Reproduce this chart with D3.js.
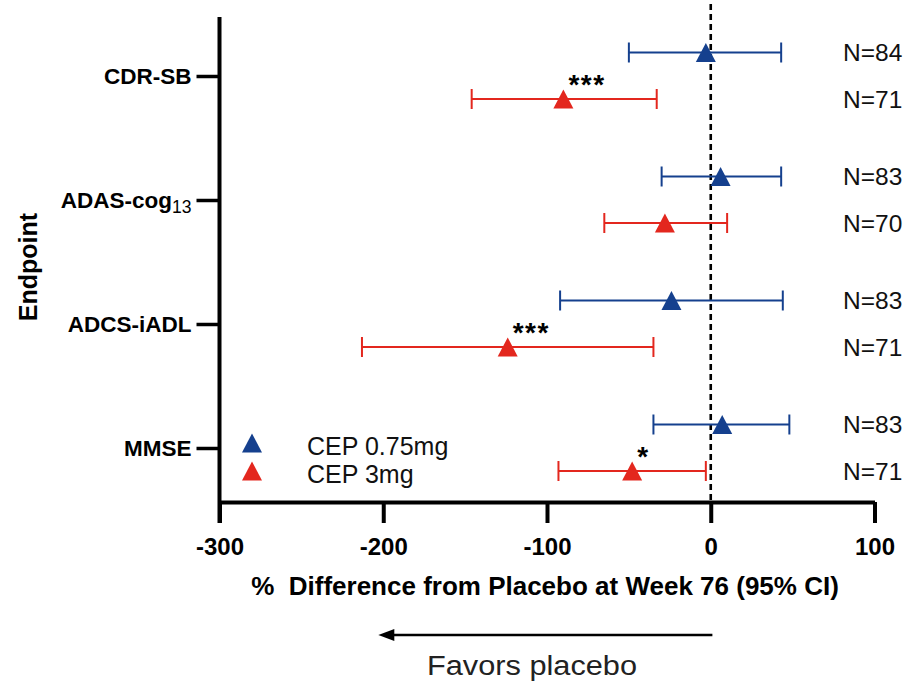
<!DOCTYPE html>
<html>
<head>
<meta charset="utf-8">
<script src="https://cdn.jsdelivr.net/npm/d3@7"></script>
<style>
    body { margin: 0; background: #fff; }
    svg { display: block; font-family: Arial, "Liberation Sans", sans-serif; }
</style>
</head>
<body>
<div id="chart"></div>
<script>
const endpoints = ["CDR-SB", "ADAS-cog13", "ADCS-iADL", "MMSE"];
const doses = ["CEP 0.75mg", "CEP 3mg"];
const lowEst = [-3, 6, -24, 7];
const lowLower = [-50, -30, -92, -35];
const lowUpper = [43, 43, 44, 48];
const lowN = [84, 83, 83, 83];
const highEst = [-90, -28, -124, -48];
const highLower = [-146, -65, -213, -93];
const highUpper = [-33, 10, -35, -3];
const highN = [71, 70, 71, 71];
const highSig = ["***", "", "***", "*"];
const xTicks = [-300, -200, -100, 0, 100];

const width = 912;
const height = 682;
const plotTop = 17;
const plotBottom = 502;
const colors = ["#15408e", "#e3271e"];
const rowOffset = [-23.5, 23];

const svg = d3
    .select("#chart")
    .append("svg")
    .attr("width", width)
    .attr("height", height);

const xScale = d3.scaleLinear().domain([-300, 100]).range([219.5, 874.5]);
const yScale = d3.scalePoint().domain(endpoints).range([76, 448]);

const rows = [];
endpoints.forEach((e, i) => {
    rows.push({ endpoint: e, dose: 0, est: lowEst[i], lo: lowLower[i], hi: lowUpper[i], n: lowN[i], sig: "" });
    rows.push({ endpoint: e, dose: 1, est: highEst[i], lo: highLower[i], hi: highUpper[i], n: highN[i], sig: highSig[i] });
});
const rowY = d => yScale(d.endpoint) + rowOffset[d.dose];

const triangle = "M0,-9.5L10,9.5L-10,9.5Z";

// zero line
svg.append("line")
    .attr("x1", xScale(0))
    .attr("x2", xScale(0))
    .attr("y1", 4)
    .attr("y2", plotBottom)
    .attr("stroke", "#000")
    .attr("stroke-width", 2.6)
    .attr("stroke-dasharray", "6,4");

// error bars
const bars = svg.append("g").selectAll("g")
    .data(rows)
    .enter()
    .append("g")
    .attr("stroke", d => colors[d.dose])
    .attr("stroke-width", 2);

bars.append("line")
    .attr("x1", d => xScale(d.lo))
    .attr("x2", d => xScale(d.hi))
    .attr("y1", rowY)
    .attr("y2", rowY);

bars.append("line")
    .attr("x1", d => xScale(d.lo))
    .attr("x2", d => xScale(d.lo))
    .attr("y1", d => rowY(d) - 10)
    .attr("y2", d => rowY(d) + 10);

bars.append("line")
    .attr("x1", d => xScale(d.hi))
    .attr("x2", d => xScale(d.hi))
    .attr("y1", d => rowY(d) - 10)
    .attr("y2", d => rowY(d) + 10);

svg.append("g").selectAll("path")
    .data(rows)
    .enter()
    .append("path")
    .attr("d", triangle)
    .attr("fill", d => colors[d.dose])
    .attr("transform", d => `translate(${xScale(d.est)},${rowY(d)})`);

// significance stars
svg.append("g").selectAll("text")
    .data(rows.filter(d => d.sig))
    .enter()
    .append("text")
    .attr("x", d => xScale(d.est) + 5)
    .attr("y", d => rowY(d) - 5)
    .attr("font-size", 28)
    .attr("font-weight", "bold")
    .attr("letter-spacing", 1.5)
    .text(d => d.sig);

// N labels
svg.append("g").selectAll("text")
    .data(rows)
    .enter()
    .append("text")
    .attr("x", 843)
    .attr("y", d => rowY(d) + 8.5)
    .attr("font-size", 24.5)
    .attr("fill", "#111")
    .text(d => `N=${d.n}`);

// axes
const xAxis = d3.axisBottom(xScale)
    .tickValues(xTicks)
    .tickFormat(d => String(d))
    .tickSize(21)
    .tickSizeOuter(0)
    .tickPadding(15);

const gx = svg.append("g")
    .attr("transform", `translate(0,${plotBottom})`)
    .call(xAxis);
gx.select(".domain").attr("stroke-width", 4);
gx.selectAll(".tick line").attr("stroke-width", 4);
gx.selectAll(".tick text")
    .attr("font-size", 24)
    .attr("font-weight", "bold")
    .attr("font-family", "Arial, 'Liberation Sans', sans-serif");

const yAxis = d3.axisLeft(yScale)
    .tickSize(23)
    .tickSizeOuter(0)
    .tickPadding(5);

const gy = svg.append("g")
    .attr("transform", `translate(${xScale(-300)},0)`)
    .call(yAxis);
gy.select(".domain").remove();
gy.append("line")
    .attr("y1", plotTop)
    .attr("y2", plotBottom + 21)
    .attr("stroke", "#000")
    .attr("stroke-width", 4);
gy.selectAll(".tick line").attr("stroke-width", 3.5);
gy.selectAll(".tick text")
    .attr("font-size", 22.5)
    .attr("font-weight", "bold")
    .attr("font-family", "Arial, 'Liberation Sans', sans-serif")
    .each(function (d) {
        if (d === "ADAS-cog13") {
            const t = d3.select(this).text("");
            t.append("tspan").text("ADAS-cog");
            t.append("tspan")
                .attr("font-size", 17.5)
                .attr("font-weight", "normal")
                .attr("dy", 5)
                .text("13");
        }
    });

// axis titles
svg.append("text")
    .attr("x", 545)
    .attr("y", 595)
    .attr("text-anchor", "middle")
    .attr("font-size", 26)
    .attr("font-weight", "bold")
    .style("white-space", "pre")
    .text("%  Difference from Placebo at Week 76 (95% CI)");

svg.append("text")
    .attr("transform", "translate(37,267) rotate(-90)")
    .attr("text-anchor", "middle")
    .attr("font-size", 25)
    .attr("font-weight", "bold")
    .text("Endpoint");

// legend
const legend = svg.append("g");
doses.forEach((name, i) => {
    const ly = 443 + i * 28;
    legend.append("path")
        .attr("d", triangle)
        .attr("fill", colors[i])
        .attr("transform", `translate(252,${ly})`);
    legend.append("text")
        .attr("x", 307)
        .attr("y", ly + 12)
        .attr("font-size", 25)
        .attr("fill", "#111")
        .text(name);
});

// favors placebo arrow
svg.append("line")
    .attr("x1", xScale(1))
    .attr("x2", xScale(-194))
    .attr("y1", 635)
    .attr("y2", 635)
    .attr("stroke", "#000")
    .attr("stroke-width", 2.5);
svg.append("path")
    .attr("d", "M0,0L16,-6L16,6Z")
    .attr("transform", `translate(${xScale(-203)},635)`)
    .attr("fill", "#000");

svg.append("text")
    .attr("x", 427)
    .attr("y", 675)
    .attr("font-size", 27)
    .attr("fill", "#222")
    .attr("textLength", 210)
    .attr("lengthAdjust", "spacingAndGlyphs")
    .text("Favors placebo");
</script>
</body>
</html>
